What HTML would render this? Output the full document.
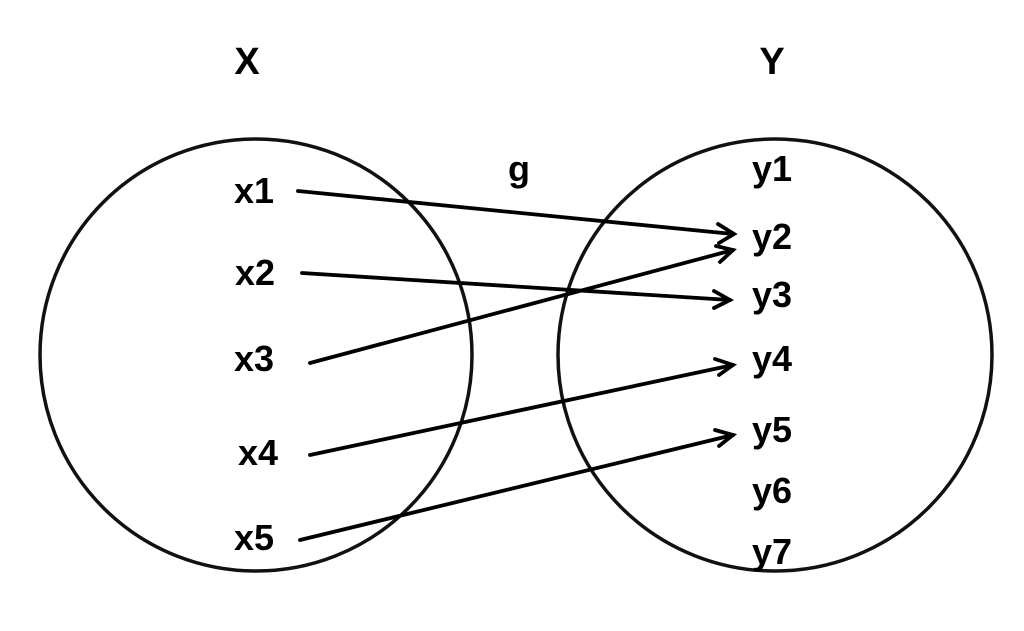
<!DOCTYPE html>
<html><head><meta charset="utf-8"><style>
html,body{margin:0;padding:0;background:#fff;}
svg{display:block;}
text{font-family:"Liberation Sans",sans-serif;font-weight:bold;fill:#000;}
</style></head><body>
<svg width="1024" height="631" viewBox="0 0 1024 631">
<g fill="none" stroke="#111" stroke-width="3.5">
<ellipse cx="256" cy="355" rx="216" ry="216"/>
<ellipse cx="775" cy="355" rx="217" ry="216"/>
</g>
<g stroke="#000" stroke-width="3.8" stroke-linecap="round" fill="none">
<line x1="298" y1="191" x2="733" y2="234"/>
<line x1="302" y1="273" x2="730" y2="300"/>
<line x1="310" y1="363" x2="733" y2="250"/>
<line x1="310" y1="455" x2="733" y2="365"/>
<line x1="300" y1="540" x2="733" y2="435"/>
<polyline points="718,224 734,234 719,243"/>
<polyline points="714,291 730,300 714,308"/>
<polyline points="716,246 733,250 720,262"/>
<polyline points="715,359 733,365 719,375"/>
<polyline points="715,430 733,435 719,446"/>
</g>
<text x="247" y="74" font-size="38" text-anchor="middle">X</text>
<text x="772" y="74" font-size="38" text-anchor="middle">Y</text>
<text x="519" y="181" font-size="36" text-anchor="middle">g</text>
<g font-size="36">
<text x="234" y="203">x1</text>
<text x="235" y="285">x2</text>
<text x="234" y="371">x3</text>
<text x="238" y="465">x4</text>
<text x="234" y="550">x5</text>
<text x="752" y="181">y1</text>
<text x="752" y="249">y2</text>
<text x="752" y="307">y3</text>
<text x="752" y="371">y4</text>
<text x="752" y="442">y5</text>
<text x="752" y="503">y6</text>
<text x="752" y="564">y7</text>
</g>
</svg>
</body></html>
